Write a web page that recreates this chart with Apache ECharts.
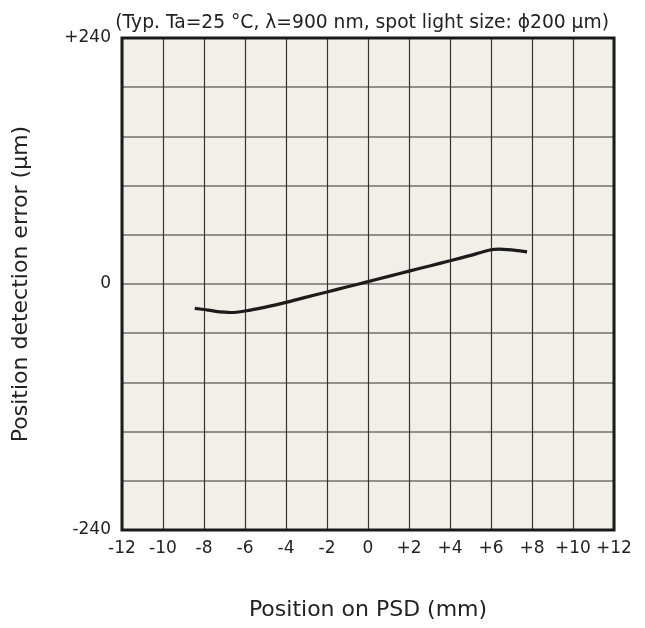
<!DOCTYPE html>
<html>
<head>
<meta charset="utf-8">
<script src="https://cdn.jsdelivr.net/npm/echarts@6/dist/echarts.min.js"></script>
<style>
html,body{margin:0;padding:0;background:#fff;}
#chart{width:645px;height:628px;}
</style>
</head>
<body>
<div id="chart"></div>
<script>
// Data
var positionMm = [-8.45, -8, -7.5, -7, -6.7, -6, -5, -4, -3, -2, -1, 0, 1, 2, 3, 4, 5, 5.5, 6, 6.4, 6.8, 7.2, 7.76];
var errorUm    = [-23.7, -24.9, -26.4, -27.5, -27.8, -26.3, -22.5, -17.9, -12.8, -7.8, -2.7, 2.3, 7.4, 12.6, 17.6, 22.7, 27.9, 30.8, 33.4, 34.0, 33.6, 32.8, 31.3];
var yTickLabels = {"240": "+240", "0": "0", "-240": "-240"};
var titleText = "(Typ. Ta=25 \u00b0C, \u03bb=900 nm, spot light size: \u03d5200 \u03bcm)";
var xName = "Position on PSD (mm)";
var yName = "Position detection error (\u03bcm)";

var seriesData = positionMm.map(function (x, i) { return [x, errorUm[i]]; });
var font = "DejaVu Sans";
var gridPos = {left: 122, right: 31, top: 38, bottom: 98};

var chart = echarts.init(document.getElementById('chart'), null, {renderer: 'canvas'});
chart.setOption({
  animation: false,
  backgroundColor: '#ffffff',
  title: {
    text: titleText,
    right: 31,
    top: 9,
    textStyle: {fontFamily: font, fontSize: 18.7, fontWeight: 'normal', color: '#222'}
  },
  grid: [
    Object.assign({show: true, backgroundColor: '#f1f0e8', borderWidth: 0}, gridPos),
    Object.assign({show: true, backgroundColor: 'transparent', borderColor: '#1a1a1a', borderWidth: 3, z: 5}, gridPos)
  ],
  xAxis: [{
    type: 'value', min: -12, max: 12, interval: 2,
    name: xName, nameLocation: 'middle', nameGap: 69,
    nameTextStyle: {fontFamily: font, fontSize: 22, color: '#222'},
    axisLine: {show: false},
    axisTick: {show: false},
    axisLabel: {
      fontFamily: font, fontSize: 17, color: '#222', margin: 10,
      formatter: function (v) { return v > 0 ? '+' + v : String(v); }
    },
    splitLine: {show: true, lineStyle: {color: '#333333', width: 1.2}}
  }, {
    gridIndex: 1, type: 'value', min: -12, max: 12, show: false
  }],
  yAxis: [{
    type: 'value', min: -240, max: 240, interval: 48,
    name: yName, nameLocation: 'middle', nameGap: 90,
    nameTextStyle: {fontFamily: font, fontSize: 22, color: '#222'},
    axisLine: {show: false},
    axisTick: {show: false},
    axisLabel: {
      fontFamily: font, fontSize: 17, color: '#222', margin: 11,
      formatter: function (v) { return yTickLabels[String(v)] || ''; }
    },
    splitLine: {show: true, lineStyle: {color: '#707070', width: 1.5}}
  }, {
    gridIndex: 1, type: 'value', min: -240, max: 240, show: false
  }],
  series: [{
    type: 'line',
    data: seriesData,
    smooth: 0.3,
    showSymbol: false,
    lineStyle: {color: '#1c1c1c', width: 3.2}
  }]
});
</script>
</body>
</html>
